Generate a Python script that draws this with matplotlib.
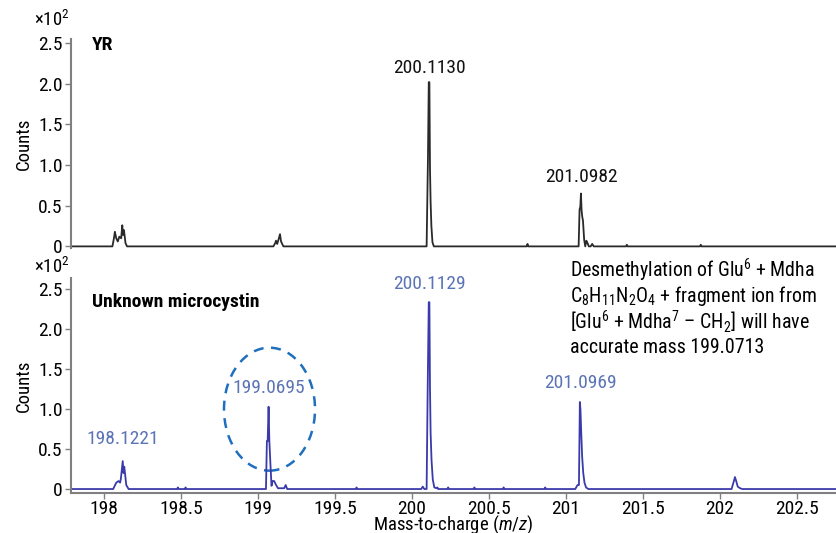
import matplotlib
matplotlib.use("Agg")
import matplotlib.pyplot as plt
from matplotlib.patches import Ellipse
from matplotlib.ticker import FixedLocator, FuncFormatter

plt.rcParams['font.family'] = ['Roboto Condensed', 'DejaVu Sans']
plt.rcParams['mathtext.fontset'] = 'custom'
plt.rcParams['mathtext.rm'] = 'Roboto Condensed'
plt.rcParams['mathtext.it'] = 'Roboto Condensed:italic'

# spectrum of YR (counts x 10^2)
yr_mz = [197.78, 198.055, 198.065, 198.071, 198.08, 198.09, 198.10, 198.112, 198.119, 198.124,
         198.13, 198.14, 198.15, 199.10, 199.112, 199.117, 199.125, 199.136, 199.143, 199.15,
         199.165, 200.095, 200.104, 200.109, 200.113, 200.117, 200.121, 200.126, 200.133, 200.142,
         200.745, 200.75, 200.755, 201.082, 201.088, 201.093, 201.097, 201.101, 201.105, 201.11,
         201.118, 201.125, 201.132, 201.14, 201.148, 201.16, 201.17, 201.18, 201.39, 201.395,
         201.40, 201.87, 201.875, 201.88, 202.76]
yr_counts = [0, 0, 0.1, 0.18, 0.1, 0.06, 0.12, 0.1, 0.26, 0.14,
             0.2, 0.04, 0, 0, 0.04, 0.07, 0.03, 0.1, 0.15, 0.06,
             0, 0, 1.12, 2.02, 2.02, 0.95, 0.54, 0.25, 0.05, 0,
             0, 0.03, 0, 0, 0.45, 0.49, 0.65, 0.45, 0.37, 0.32,
             0.08, 0, 0.07, 0.04, 0, 0, 0.03, 0, 0, 0.02,
             0, 0, 0.02, 0, 0]

# spectrum of the unknown microcystin (counts x 10^2)
mc_mz = [197.78, 198.06, 198.08, 198.095, 198.105, 198.11, 198.122, 198.127, 198.132, 198.145,
         198.16, 198.475, 198.48, 198.485, 198.525, 198.53, 198.535, 199.052, 199.058, 199.063,
         199.069, 199.074, 199.08, 199.088, 199.095, 199.105, 199.115, 199.13, 199.17, 199.18,
         199.19, 199.635, 199.64, 199.645, 200.06, 200.07, 200.08, 200.095, 200.102, 200.109,
         200.113, 200.117, 200.121, 200.127, 200.135, 200.145, 200.16, 200.165, 200.17, 200.23,
         200.235, 200.24, 200.40, 200.405, 200.41, 200.59, 200.595, 200.60, 200.86, 200.865,
         200.87, 201.06, 201.075, 201.084, 201.09, 201.094, 201.099, 201.105, 201.112, 201.12,
         201.13, 201.145, 202.075, 202.09, 202.097, 202.105, 202.115, 202.13, 202.145, 202.76]
mc_counts = [0, 0, 0.08, 0.1, 0.08, 0.13, 0.35, 0.2, 0.28, 0.05,
             0, 0, 0.02, 0, 0, 0.02, 0, 0, 0.6, 0.6,
             1.03, 0.6, 0.35, 0.04, 0.1, 0.1, 0.06, 0.01, 0.01, 0.05,
             0, 0, 0.02, 0, 0, 0.03, 0, 0, 1.26, 2.34,
             2.34, 1.26, 0.7, 0.36, 0.12, 0.02, 0.01, 0.02, 0, 0,
             0.02, 0, 0, 0.02, 0, 0, 0.02, 0, 0, 0.02,
             0, 0, 0.05, 0.05, 1.09, 0.99, 0.7, 0.4, 0.2, 0.08,
             0.02, 0, 0, 0.1, 0.15, 0.1, 0.03, 0.01, 0, 0]

yr_labels = [(200.1130, 2.08, '200.1130'), (201.0982, 0.74, '201.0982')]
mc_labels = [(198.1221, 0.51, '198.1221'), (199.0695, 1.15, '199.0695'),
             (200.1129, 2.45, '200.1129'), (201.0969, 1.21, '201.0969')]

yticks = [0, 0.5, 1.0, 1.5, 2.0, 2.5]
xticks = [198, 198.5, 199, 199.5, 200, 200.5, 201, 201.5, 202, 202.5]
xlim = (197.786, 202.753)

fig = plt.figure(figsize=(8.36, 5.33), dpi=100)
ax1 = fig.add_axes([0.0849, 0.5347, 0.9151, 0.392])
ax2 = fig.add_axes([0.0849, 0.075, 0.9151, 0.403])

axis_grey = '#808080'
black_line = '#2a2a2a'
blue_line = '#3a3aaa'
blue_text = '#5b74b5'

ax1.plot(yr_mz, yr_counts, color=black_line, lw=1.3)
ax2.plot(mc_mz, mc_counts, color=blue_line, lw=1.3)

ax1.set_ylim(-0.02, 2.55)
ax2.set_ylim(-0.05, 2.64)

fmt = FuncFormatter(lambda v, p: '0' if v == 0 else f'{v:.1f}')
for ax in (ax1, ax2):
    ax.set_xlim(*xlim)
    ax.yaxis.set_major_locator(FixedLocator(yticks))
    ax.yaxis.set_major_formatter(fmt)
    for s in ('top', 'right'):
        ax.spines[s].set_visible(False)
    ax.spines['left'].set_color(axis_grey)
    ax.spines['left'].set_linewidth(1.5)
    ax.tick_params(axis='y', length=4, width=1, color=axis_grey, labelsize=14, pad=2)
    ax.set_ylabel('Counts', fontsize=13.5, labelpad=4)

ax1.spines['bottom'].set_visible(False)
ax1.set_xticks([])

ax2.spines['bottom'].set_color(axis_grey)
ax2.spines['bottom'].set_linewidth(1.5)
ax2.set_xticks(xticks)
ax2.set_xticklabels([f'{t:g}' for t in xticks])
ax2.tick_params(axis='x', length=4, width=1, color=axis_grey, labelsize=14, pad=1)
ax2.set_xlabel('Mass-to-charge ($\\mathit{m/z}$)', fontsize=13.5, labelpad=-3.5)

for x, y, s in yr_labels:
    ax1.text(x, y, s, ha='center', va='bottom', fontsize=14, color='#111111')
for x, y, s in mc_labels:
    ax2.text(x, y, s, ha='center', va='bottom', fontsize=14, color=blue_text)

ax1.text(0.027, 0.97, 'YR', transform=ax1.transAxes, fontsize=14, fontweight='bold',
         ha='left', va='center')
ax2.text(0.027, 0.888, 'Unknown microcystin', transform=ax2.transAxes, fontsize=14,
         fontweight='bold', ha='left', va='center')

fig.text(0.041, 0.962, '×10$^{\\mathregular{2}}$', fontsize=13.5, ha='left', va='center')
fig.text(0.041, 0.499, '×10$^{\\mathregular{2}}$', fontsize=13.5, ha='left', va='center')

ax2.add_patch(Ellipse((199.075, 1.0), 0.591, 1.54, fill=False, ls=(0, (4, 3)),
                      lw=1.8, color='#1f6fbf'))

note = ['Desmethylation of Glu$^{\\mathregular{6}}$ + Mdha',
        'C$_{\\mathregular{8}}$H$_{\\mathregular{11}}$N$_{\\mathregular{2}}$O$_{\\mathregular{4}}$ + fragment ion from',
        '[Glu$^{\\mathregular{6}}$ + Mdha$^{\\mathregular{7}}$ – CH$_{\\mathregular{2}}$] will have',
        'accurate mass 199.0713']
for i, line in enumerate(note):
    fig.text(570 / 836, 1 - (270 + 25.7 * i) / 533, line, fontsize=14.3, ha='left', va='center')

fig.savefig('out.png', dpi=100)
